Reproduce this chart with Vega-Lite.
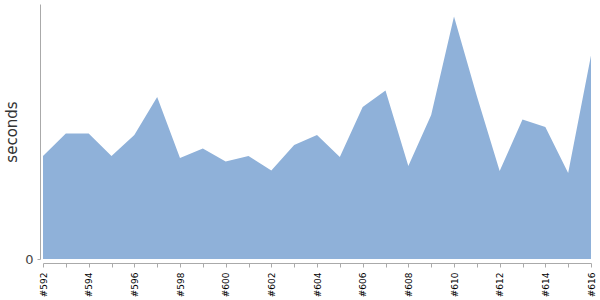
{
  "$schema": "https://vega.github.io/schema/vega-lite/v6.json",
  "width": 548,
  "height": 255,
  "autosize": {"type": "none"},
  "padding": {"left": 43, "top": 4, "right": 9, "bottom": 41},
  "background": "white",
  "config": {"view": {"stroke": null}, "font": "DejaVu Sans"},
  "data": {"values": [
    {"build": "#592", "seconds": 103},
    {"build": "#593", "seconds": 125.5},
    {"build": "#594", "seconds": 125.5},
    {"build": "#595", "seconds": 103},
    {"build": "#596", "seconds": 124},
    {"build": "#597", "seconds": 162},
    {"build": "#598", "seconds": 101},
    {"build": "#599", "seconds": 110.5},
    {"build": "#600", "seconds": 97.5},
    {"build": "#601", "seconds": 103},
    {"build": "#602", "seconds": 88.5},
    {"build": "#603", "seconds": 114},
    {"build": "#604", "seconds": 124},
    {"build": "#605", "seconds": 102},
    {"build": "#606", "seconds": 152},
    {"build": "#607", "seconds": 168.5},
    {"build": "#608", "seconds": 93},
    {"build": "#609", "seconds": 144},
    {"build": "#610", "seconds": 242.5},
    {"build": "#611", "seconds": 163},
    {"build": "#612", "seconds": 88},
    {"build": "#613", "seconds": 139.5},
    {"build": "#614", "seconds": 132},
    {"build": "#615", "seconds": 86},
    {"build": "#616", "seconds": 203.5}
  ]},
  "mark": {"type": "area", "color": "#8fb1d9", "opacity": 1},
  "encoding": {
    "x": {
      "field": "build",
      "type": "ordinal",
      "scale": {"type": "point", "padding": 0},
      "axis": {
        "title": null,
        "offset": 4,
        "labelAngle": -90,
        "labelAlign": "right",
        "labelBaseline": "middle",
        "labelFontSize": 9,
        "labelColor": "#000",
        "labelPadding": 5,
        "labelOverlap": false,
        "labelExpr": "parseInt(substring(datum.value, 1)) % 2 == 0 ? datum.value : ''",
        "tickSize": 4,
        "tickColor": "#aaa",
        "domainColor": "#aaa",
        "grid": false
      }
    },
    "y": {
      "field": "seconds",
      "type": "quantitative",
      "scale": {"domain": [0, 255], "nice": false},
      "axis": {
        "title": "seconds",
        "titleFontSize": 15,
        "titleFontWeight": "normal",
        "titleColor": "#333",
        "titlePadding": 5,
        "offset": 3,
        "values": [0],
        "labelFontSize": 13,
        "labelColor": "#444",
        "labelPadding": 4,
        "tickSize": 3,
        "tickColor": "#aaa",
        "domainColor": "#aaa",
        "grid": false
      }
    }
  }
}
